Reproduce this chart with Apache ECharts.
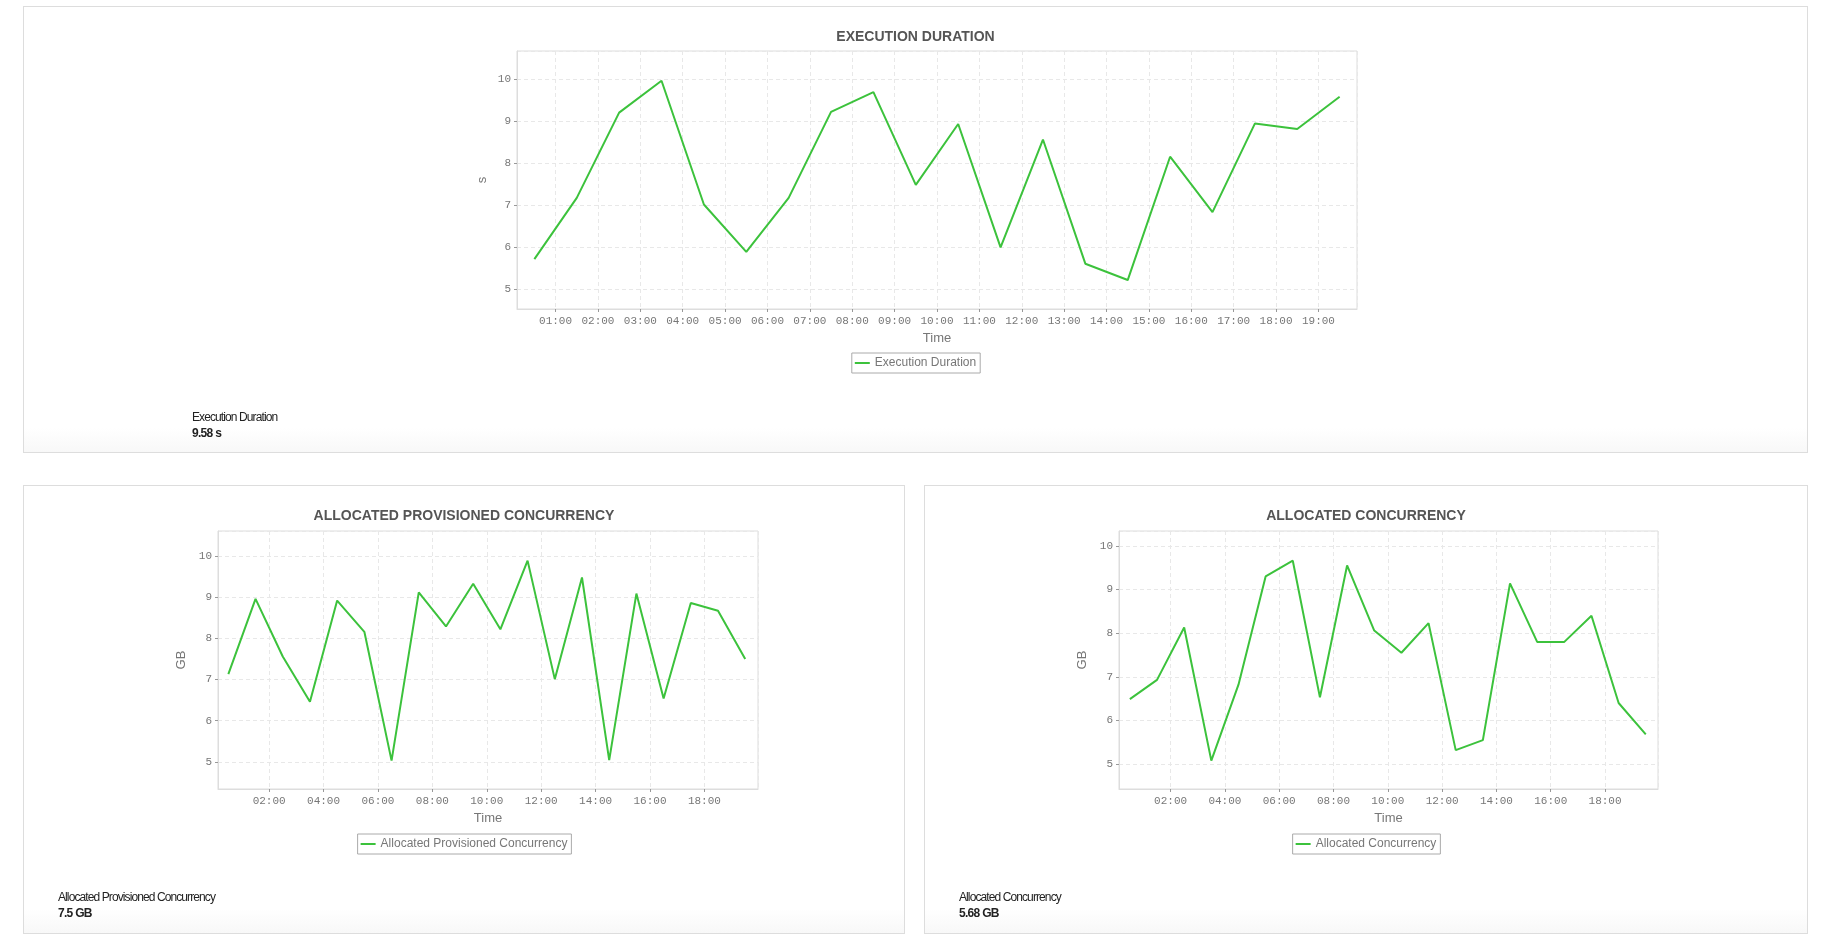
<!DOCTYPE html>
<html>
<head>
<meta charset="utf-8">
<script src="https://cdn.jsdelivr.net/npm/echarts@6/dist/echarts.min.js"></script>
<style>
    html, body { margin: 0; padding: 0; background: #fff; }
    body { width: 1823px; height: 944px; position: relative; overflow: hidden; font-family: 'Liberation Sans', Arial, sans-serif; }
    .panel {
        position: absolute;
        box-sizing: border-box;
        border: 1px solid #ddd;
        background: linear-gradient(to bottom, #fff 0, #fff calc(100% - 24px), #f8f8f8 100%);
    }
    .chart { position: absolute; left: 0; top: 0; right: 0; bottom: 0; }
    .summary {
        position: absolute;
        font-size: 12px;
        line-height: 16px;
        color: #222;
        letter-spacing: -0.9px;
    }
    .summary b { letter-spacing: -0.7px; }
</style>
</head>
<body>
<div class="panel" style="left:23px;top:6px;width:1785px;height:447px;">
    <div class="chart" id="chartDuration"></div>
    <div class="summary" style="left:168px;top:402px;">Execution Duration<br><b>9.58 s</b></div>
</div>
<div class="panel" style="left:23px;top:485px;width:882px;height:449px;">
    <div class="chart" id="chartProvisioned"></div>
    <div class="summary" style="left:34px;top:403px;">Allocated Provisioned Concurrency<br><b>7.5 GB</b></div>
</div>
<div class="panel" style="left:924px;top:485px;width:884px;height:449px;">
    <div class="chart" id="chartConcurrency"></div>
    <div class="summary" style="left:34px;top:403px;">Allocated Concurrency<br><b>5.68 GB</b></div>
</div>
<script>
// 数据（每小时一个点，时间为 HH:MM）
const times = ['00:30', '01:30', '02:30', '03:30', '04:30', '05:30', '06:30', '07:30', '08:30', '09:30',
               '10:30', '11:30', '12:30', '13:30', '14:30', '15:30', '16:30', '17:30', '18:30', '19:30'];
const executionDuration = [5.71, 7.17, 9.20, 9.96, 7.01, 5.88, 7.17, 9.22, 9.69, 7.48,
                           8.93, 5.99, 8.56, 5.60, 5.21, 8.15, 6.83, 8.94, 8.81, 9.58];
const provisionedConcurrency = [7.13, 8.96, 7.56, 6.46, 8.92, 8.16, 5.03, 9.12, 8.29, 9.33,
                                8.22, 9.89, 7.01, 9.48, 5.04, 9.09, 6.54, 8.86, 8.67, 7.50];
const allocatedConcurrency = [6.49, 6.93, 8.13, 5.08, 6.82, 9.30, 9.66, 6.53, 9.55, 8.06,
                              7.55, 8.23, 5.32, 5.55, 9.14, 7.80, 7.80, 8.40, 6.40, 5.68];

const LINE_COLOR = '#3cc23c';
const GRID_COLOR = '#e8e8e8';
const LABEL_COLOR = '#777';

// 'HH:MM' -> 小时数
function toHours(t) {
    const [h, m] = t.split(':').map(Number);
    return h + m / 60;
}

// 小时数 -> 'HH:00'
function hourLabel(v) {
    const h = Math.round(v);
    return (h < 10 ? '0' + h : '' + h) + ':00';
}

// 渲染折线图
function renderLineChart(containerId, cfg) {
    const chart = echarts.init(document.getElementById(containerId));
    const seriesData = times.map((t, i) => [toHours(t), cfg.values[i]]);

    const option = {
        animation: false,
        title: {
            text: cfg.title,
            left: 'center',
            top: 23,
            padding: 0,
            textStyle: { fontSize: 14, fontWeight: 'bold', color: '#555', fontFamily: 'Liberation Sans' }
        },
        legend: {
            data: [cfg.name],
            left: 'center',
            top: cfg.legendTop,
            icon: 'rect',
            itemWidth: 15,
            itemHeight: 2,
            itemGap: 6,
            padding: [4, 4, 4, 3],
            borderColor: '#aaa',
            borderWidth: 1,
            borderRadius: 0,
            textStyle: { fontSize: 12, color: LABEL_COLOR, fontFamily: 'Liberation Sans', padding: [0, 0, 0, 0] }
        },
        grid: {
            show: true,
            left: cfg.grid.left,
            top: cfg.grid.top,
            width: cfg.grid.width,
            height: cfg.grid.height,
            borderColor: '#ddd',
            borderWidth: 1,
            containLabel: false
        },
        xAxis: {
            type: 'value',
            min: cfg.xRange[0],
            max: cfg.xRange[1],
            splitNumber: cfg.xSplit,
            name: 'Time',
            nameLocation: 'middle',
            nameGap: 21,
            nameTextStyle: { fontSize: 13, color: LABEL_COLOR, fontFamily: 'Liberation Sans' },
            axisLine: { show: true, lineStyle: { color: '#ddd' } },
            axisTick: { show: true, length: 3, lineStyle: { color: '#999' } },
            axisLabel: {
                showMinLabel: false,
                showMaxLabel: false,
                margin: 7,
                fontSize: 11,
                color: LABEL_COLOR,
                fontFamily: 'Liberation Mono',
                formatter: hourLabel
            },
            splitLine: { show: true, lineStyle: { color: GRID_COLOR, type: [4, 3] } }
        },
        yAxis: {
            type: 'value',
            min: cfg.yRange[0],
            max: cfg.yRange[1],
            splitNumber: 6,
            name: cfg.unit,
            nameLocation: 'middle',
            nameGap: 28,
            nameTextStyle: { fontSize: 13, color: LABEL_COLOR, fontFamily: 'Liberation Sans' },
            axisLine: { show: true, lineStyle: { color: '#ddd' } },
            axisTick: { show: true, length: 3, lineStyle: { color: '#999' } },
            axisLabel: {
                showMinLabel: false,
                showMaxLabel: false,
                margin: 6,
                fontSize: 11,
                color: LABEL_COLOR,
                fontFamily: 'Liberation Mono'
            },
            splitLine: { show: true, lineStyle: { color: GRID_COLOR, type: [4, 3] } }
        },
        series: [{
            name: cfg.name,
            type: 'line',
            data: seriesData,
            showSymbol: false,
            symbol: 'none',
            lineStyle: { color: LINE_COLOR, width: 2 },
            itemStyle: { color: LINE_COLOR }
        }]
    };

    chart.setOption(option);
    return chart;
}

renderLineChart('chartDuration', {
    title: 'EXECUTION DURATION',
    name: 'Execution Duration',
    unit: 's',
    values: executionDuration,
    grid: { left: 493, top: 44, width: 840, height: 258 },
    xRange: [0.09, 19.91],
    xSplit: 20,
    yRange: [4.52, 10.67],
    legendTop: 346
});

renderLineChart('chartProvisioned', {
    title: 'ALLOCATED PROVISIONED CONCURRENCY',
    name: 'Allocated Provisioned Concurrency',
    unit: 'GB',
    values: provisionedConcurrency,
    grid: { left: 194, top: 45, width: 540, height: 258 },
    xRange: [0.12, 19.97],
    xSplit: 10,
    yRange: [4.34, 10.61],
    legendTop: 348
});

renderLineChart('chartConcurrency', {
    title: 'ALLOCATED CONCURRENCY',
    name: 'Allocated Concurrency',
    unit: 'GB',
    values: allocatedConcurrency,
    grid: { left: 194, top: 45, width: 539, height: 258 },
    xRange: [0.10, 19.95],
    xSplit: 10,
    yRange: [4.43, 10.34],
    legendTop: 348
});
</script>
</body>
</html>
